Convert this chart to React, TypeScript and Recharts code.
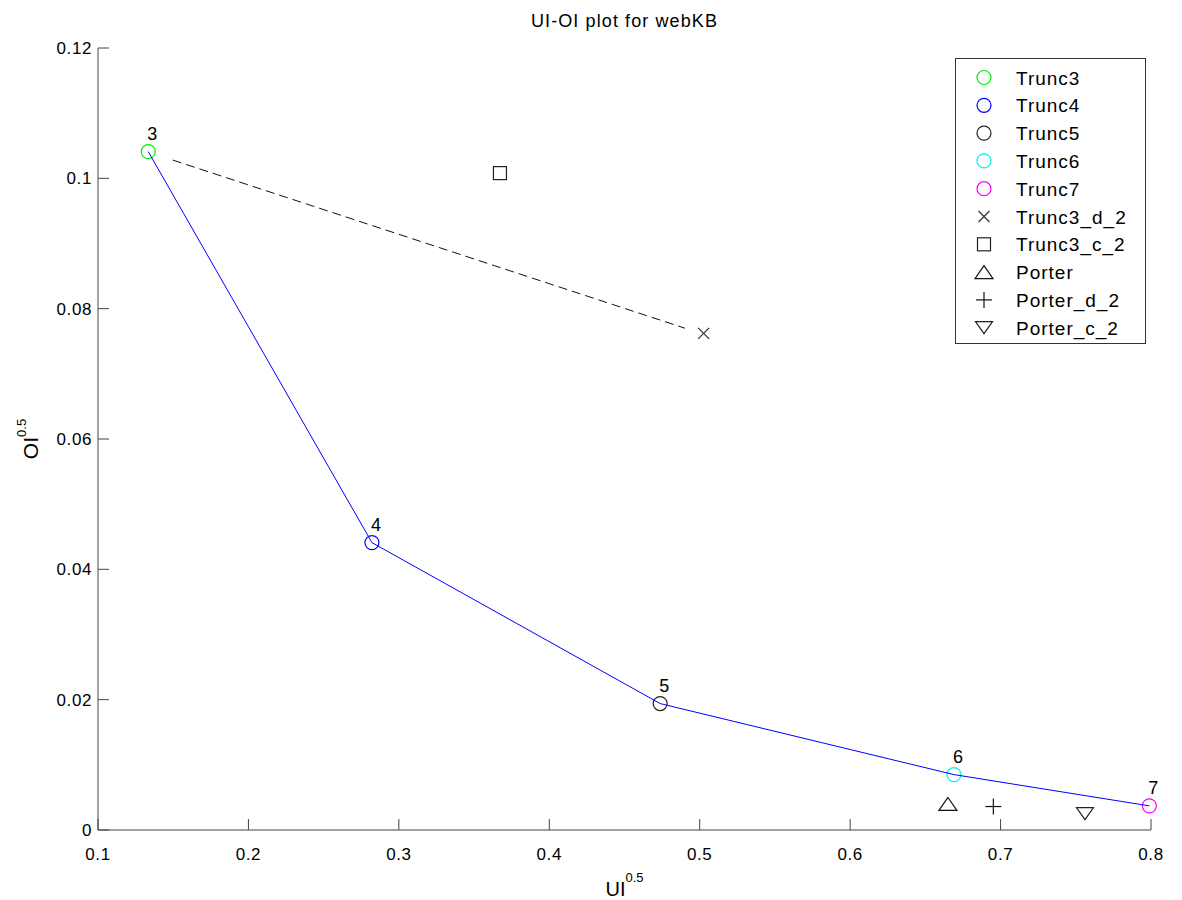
import React from "react";
import { ComposedChart, Scatter, XAxis, YAxis } from "recharts";

// truncation stemmers Trunc3..Trunc7
const truncNames = ["Trunc3", "Trunc4", "Trunc5", "Trunc6", "Trunc7"];
const truncLabels = ["3", "4", "5", "6", "7"];
const truncUI = [0.1334, 0.2821, 0.4737, 0.669, 0.7989];
const truncOI = [0.1041, 0.0441, 0.0194, 0.0085, 0.0037];

// dashed guide between Trunc3 and Trunc3_d_2
const guideUI = [0.1497, 0.4902];
const guideOI = [0.1028, 0.077];

const truncD2UI = [0.5026];
const truncD2OI = [0.0762];
const truncC2UI = [0.3672];
const truncC2OI = [0.1008];
const porterUI = [0.665];
const porterOI = [0.004];
const porterD2UI = [0.6952];
const porterD2OI = [0.0036];
const porterC2UI = [0.7561];
const porterC2OI = [0.0025];

const xTicks = [0.1, 0.2, 0.3, 0.4, 0.5, 0.6, 0.7, 0.8];
const yTicks = [0, 0.02, 0.04, 0.06, 0.08, 0.1, 0.12];

const truncColors = ["#00ee00", "#0000ff", "#222222", "#00eeee", "#ff00ff"];
const AXIS = "#444444";
const FONT = "'Liberation Sans', Arial, sans-serif";

const pts = (xs: number[], ys: number[], labels?: string[]) =>
  xs.map((x, i) => ({ x, y: ys[i], label: labels ? labels[i] : "" }));

type Mark = "o" | "x" | "s" | "^" | "+" | "v";

function Marker({ kind, cx, cy, color }: { kind: Mark; cx: number; cy: number; color: string }) {
  const common = { fill: "none", stroke: color, strokeWidth: 1.2 };
  switch (kind) {
    case "o":
      return <circle cx={cx} cy={cy} r={7} {...common} />;
    case "x":
      return (
        <g {...common}>
          <line x1={cx - 5.5} y1={cy - 5.5} x2={cx + 5.5} y2={cy + 5.5} />
          <line x1={cx - 5.5} y1={cy + 5.5} x2={cx + 5.5} y2={cy - 5.5} />
        </g>
      );
    case "s":
      return <rect x={cx - 6.5} y={cy - 6.5} width={13} height={13} {...common} />;
    case "^":
      return <polygon points={`${cx},${cy - 6.5} ${cx - 9},${cy + 6.5} ${cx + 9},${cy + 6.5}`} {...common} />;
    case "+":
      return (
        <g {...common}>
          <line x1={cx - 8} y1={cy} x2={cx + 8} y2={cy} />
          <line x1={cx} y1={cy - 8} x2={cx} y2={cy + 8} />
        </g>
      );
    case "v":
      return <polygon points={`${cx - 8.5},${cy - 6} ${cx + 8.5},${cy - 6} ${cx},${cy + 6}`} {...common} />;
  }
  return null;
}

const legendItems: { name: string; kind: Mark; color: string }[] = [
  ...truncNames.map((name, i) => ({ name, kind: "o" as Mark, color: truncColors[i] })),
  { name: "Trunc3_d_2", kind: "x", color: "#333" },
  { name: "Trunc3_c_2", kind: "s", color: "#222" },
  { name: "Porter", kind: "^", color: "#111" },
  { name: "Porter_d_2", kind: "+", color: "#111" },
  { name: "Porter_c_2", kind: "v", color: "#222" },
];

const fmt = (v: number) => String(Number(v.toFixed(2)));

const XTick = (props: any) => {
  const { x, y, payload } = props;
  return (
    <g>
      <line x1={x} x2={x} y1={y} y2={y - 11} stroke={AXIS} />
      <text x={x} y={y + 30} textAnchor="middle" fontSize={17} letterSpacing={0.6} fill="#000" fontFamily={FONT}>
        {fmt(payload.value)}
      </text>
    </g>
  );
};

const YTick = (props: any) => {
  const { x, y, payload } = props;
  return (
    <g>
      <line x1={x} x2={x + 11} y1={y} y2={y} stroke={AXIS} />
      <text x={x - 6} y={y + 6} textAnchor="end" fontSize={17} letterSpacing={0.6} fill="#000" fontFamily={FONT}>
        {fmt(payload.value)}
      </text>
    </g>
  );
};

const noShape = () => <g />;

export default function App() {
  const truncPts = pts(truncUI, truncOI, truncLabels);
  return (
    <div style={{ position: "absolute", left: 0, top: 0, width: 1182, height: 900, background: "#fff", fontFamily: FONT }}>
      <div style={{ position: "absolute", left: 98, width: 1053, top: 11, textAlign: "center", fontSize: 18, letterSpacing: 1.1, lineHeight: "20px", color: "#000" }}>
        UI-OI plot for webKB
      </div>
      <ComposedChart width={1182} height={900} margin={{ top: 48, right: 31, bottom: 0, left: 0 }}>
        <XAxis
          type="number"
          dataKey="x"
          domain={[0.1, 0.8]}
          ticks={xTicks}
          height={70}
          tickSize={0}
          tickMargin={0}
          tickLine={false}
          axisLine={{ stroke: AXIS }}
          tick={<XTick />}
          label={{
            content: (p: any) => {
              const vb = p.viewBox;
              return (
                <text x={vb.x + vb.width / 2} y={vb.y + 66} textAnchor="middle" fontFamily={FONT} fill="#000">
                  <tspan fontSize={20}>UI</tspan>
                  <tspan fontSize={13} dy={-14}>0.5</tspan>
                </text>
              );
            },
          }}
        />
        <YAxis
          type="number"
          dataKey="y"
          domain={[0, 0.12]}
          ticks={yTicks}
          width={98}
          tickSize={0}
          tickMargin={0}
          tickLine={false}
          axisLine={{ stroke: AXIS }}
          tick={<YTick />}
          label={{
            content: (p: any) => {
              const vb = p.viewBox;
              const cy = vb.y + vb.height / 2;
              return (
                <text transform={`translate(38, ${cy}) rotate(-90)`} textAnchor="middle" fontFamily={FONT} fill="#000">
                  <tspan fontSize={21}>OI</tspan>
                  <tspan fontSize={13} dy={-12}>0.5</tspan>
                </text>
              );
            },
          }}
        />
        {truncNames.map((name, i) => (
          <Scatter
            key={name}
            name={name}
            data={[truncPts[i]]}
            isAnimationActive={false}
            shape={(p: any) => (
              <g>
                <Marker kind="o" cx={p.cx} cy={p.cy} color={truncColors[i]} />
                <text x={p.cx + 4} y={p.cy - 12} textAnchor="middle" fontSize={18} fill="#000" fontFamily={FONT}>
                  {p.payload.label}
                </text>
              </g>
            )}
          />
        ))}
        <Scatter name="Trunc3_d_2" data={pts(truncD2UI, truncD2OI)} isAnimationActive={false}
          shape={(p: any) => <Marker kind="x" cx={p.cx} cy={p.cy} color="#333" />} />
        <Scatter name="Trunc3_c_2" data={pts(truncC2UI, truncC2OI)} isAnimationActive={false}
          shape={(p: any) => <Marker kind="s" cx={p.cx} cy={p.cy} color="#222" />} />
        <Scatter name="Porter" data={pts(porterUI, porterOI)} isAnimationActive={false}
          shape={(p: any) => <Marker kind="^" cx={p.cx} cy={p.cy} color="#111" />} />
        <Scatter name="Porter_d_2" data={pts(porterD2UI, porterD2OI)} isAnimationActive={false}
          shape={(p: any) => <Marker kind="+" cx={p.cx} cy={p.cy} color="#111" />} />
        <Scatter name="Porter_c_2" data={pts(porterC2UI, porterC2OI)} isAnimationActive={false}
          shape={(p: any) => <Marker kind="v" cx={p.cx} cy={p.cy} color="#222" />} />
        {/* connecting lines drawn on top of the markers */}
        <Scatter data={truncPts} isAnimationActive={false} line={{ stroke: "#0000ff", strokeWidth: 1 }} shape={noShape} />
        <Scatter data={pts(guideUI, guideOI)} isAnimationActive={false}
          line={{ stroke: "#111", strokeWidth: 1, strokeDasharray: "9 5" }} shape={noShape} />
      </ComposedChart>
      <svg style={{ position: "absolute", left: 955, top: 58 }} width={191} height={286}>
        <rect x={0.5} y={0.5} width={190} height={285} fill="#fff" stroke="#333" />
        {legendItems.map((it, i) => {
          const cy = 19.5 + i * 27.8;
          return (
            <g key={it.name}>
              <Marker kind={it.kind} cx={29} cy={cy} color={it.color} />
              <text x={61} y={cy + 7} fontSize={19} letterSpacing={1} fill="#000" fontFamily={FONT}>
                {it.name}
              </text>
            </g>
          );
        })}
      </svg>
    </div>
  );
}
